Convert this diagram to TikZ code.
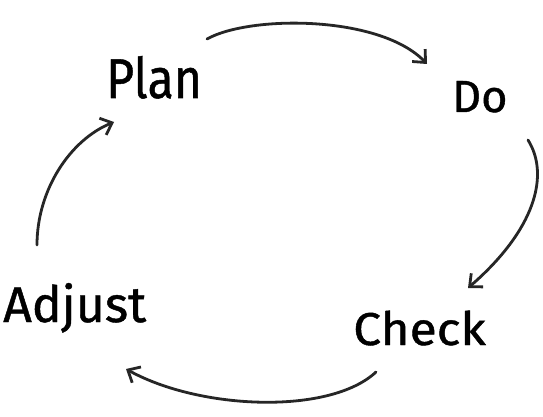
\documentclass[tikz,border=0pt]{standalone}
\usepackage{fontspec}
\setmainfont{Fira Sans}
\newfontfamily\hand{Fira Sans}[FakeBold=0.9]
\usetikzlibrary{arrows.meta}
\begin{document}
\begin{tikzpicture}[x=1pt,y=-1pt,
  lbl/.style={inner sep=0pt, anchor=base west, text=black},
  cyc/.style={line width=2.8pt, draw=black!85, line cap=round,
    -{Straight Barb[length=10pt,width=18pt,line width=2.8pt]}}]
\useasboundingbox[fill=white] (0,0) rectangle (543,417);
\node[lbl, font=\hand\fontsize{56}{60}\selectfont, xscale=0.86] (plan) at (106,98) {Plan};
\node[lbl, font=\hand\fontsize{45}{50}\selectfont] (do) at (452,112) {Do};
\node[lbl, font=\hand\fontsize{46}{50}\selectfont, xscale=1.08] (check) at (353,345) {Check};
\node[lbl, font=\hand\fontsize{50}{54}\selectfont] (adjust) at (3,322) {Adjust};
\coordinate (a1s) at (207,39);  \coordinate (a1e) at (427,64);
\coordinate (a2s) at (528,140); \coordinate (a2e) at (468,288);
\coordinate (a3s) at (376,372); \coordinate (a3e) at (126,369);
\coordinate (a4s) at (37,245);  \coordinate (a4e) at (114,122);
\draw[cyc] (a1s) .. controls (250,15) and (380,15) .. (a1e);
\draw[cyc] (a2s) .. controls (550,175) and (535,230) .. (a2e);
\draw[cyc] (a3s) .. controls (330,415) and (200,410) .. (a3e);
\draw[cyc] (a4s) .. controls (37,190) and (70,140) .. (a4e);
\end{tikzpicture}
\end{document}
